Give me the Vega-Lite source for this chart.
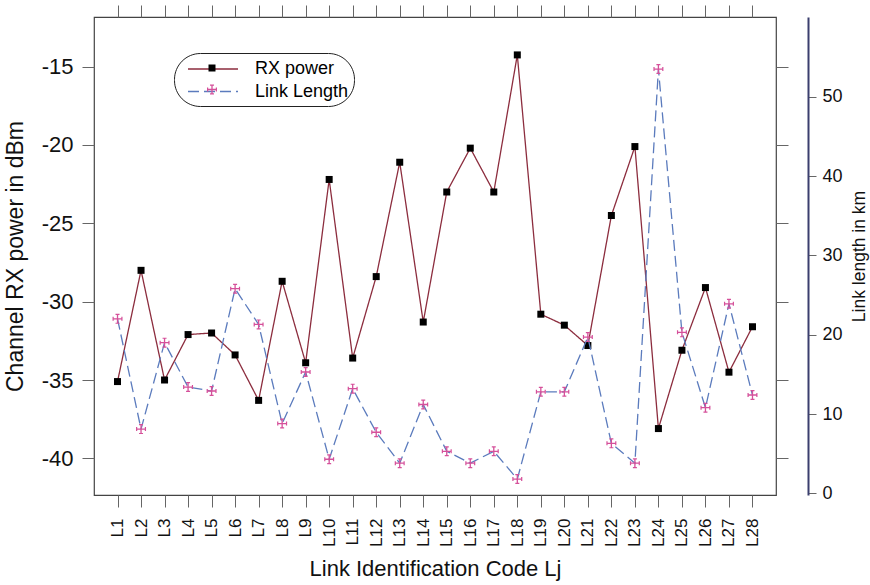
{
  "$schema": "https://vega.github.io/schema/vega-lite/v6.json",
  "autosize": "none",
  "width": 682,
  "height": 478,
  "padding": {"left": 94, "top": 17, "right": 94, "bottom": 90},
  "background": "white",
  "config": {
    "font": "Liberation Sans",
    "view": {"stroke": "#444444", "strokeWidth": 1.2},
    "axis": {
      "grid": false,
      "domain": false,
      "tickColor": "#666666",
      "tickWidth": 1,
      "labelColor": "#111111",
      "titleColor": "#111111",
      "titleFontWeight": "normal"
    }
  },
  "data": {
    "values": [
      {"link": "L1", "rx": -35.1, "km": 22.0},
      {"link": "L2", "rx": -28.0, "km": 8.1},
      {"link": "L3", "rx": -35.0, "km": 19.0},
      {"link": "L4", "rx": -32.1, "km": 13.4},
      {"link": "L5", "rx": -32.0, "km": 12.9},
      {"link": "L6", "rx": -33.4, "km": 25.8},
      {"link": "L7", "rx": -36.3, "km": 21.3},
      {"link": "L8", "rx": -28.7, "km": 8.8},
      {"link": "L9", "rx": -33.9, "km": 15.3},
      {"link": "L10", "rx": -22.2, "km": 4.3},
      {"link": "L11", "rx": -33.6, "km": 13.2},
      {"link": "L12", "rx": -28.4, "km": 7.7},
      {"link": "L13", "rx": -21.1, "km": 3.8},
      {"link": "L14", "rx": -31.3, "km": 11.2},
      {"link": "L15", "rx": -23.0, "km": 5.3},
      {"link": "L16", "rx": -20.2, "km": 3.8},
      {"link": "L17", "rx": -23.0, "km": 5.3},
      {"link": "L18", "rx": -14.25, "km": 1.8},
      {"link": "L19", "rx": -30.8, "km": 12.8},
      {"link": "L20", "rx": -31.5, "km": 12.8},
      {"link": "L21", "rx": -32.8, "km": 19.7},
      {"link": "L22", "rx": -24.5, "km": 6.3},
      {"link": "L23", "rx": -20.1, "km": 3.8},
      {"link": "L24", "rx": -38.1, "km": 53.5},
      {"link": "L25", "rx": -33.1, "km": 20.3},
      {"link": "L26", "rx": -29.1, "km": 10.8},
      {"link": "L27", "rx": -34.5, "km": 23.9},
      {"link": "L28", "rx": -31.6, "km": 12.4}
    ]
  },
  "layer": [
    {
      "mark": {"type": "line", "strokeWidth": 1.3},
      "encoding": {
        "x": {
          "field": "link", "type": "ordinal", "sort": null,
          "scale": {"type": "point", "padding": 1},
          "axis": {
            "orient": "bottom", "labelAngle": -90, "labelFontSize": 17,
            "tickSize": 12, "labelPadding": 11,
            "title": "Link Identification Code Lj", "titleFontSize": 22, "titlePadding": 12
          }
        },
        "y": {
          "field": "rx", "type": "quantitative",
          "scale": {"domain": [-42.34, -11.83], "nice": false, "zero": false},
          "axis": {
            "orient": "left", "values": [-40, -35, -30, -25, -20, -15],
            "labelExpr": "toString(datum.value)",
            "tickSize": 12, "labelFontSize": 22, "labelPadding": 9,
            "title": "Channel RX power in dBm", "titleFontSize": 23, "titlePadding": 14
          }
        },
        "stroke": {
          "datum": "RX power",
          "scale": {"domain": ["RX power", "Link Length"], "range": ["#8c2d3e", "#5b7bbd"]},
          "legend": {
            "orient": "none", "legendX": 80, "legendY": 36, "title": null,
            "symbolType": "M-2.5,0H2.5", "symbolSize": 400, "symbolStrokeWidth": 1.5,
            "symbolOffset": 23, "labelOffset": 31,
            "labelFontSize": 18, "rowPadding": 2.5, "padding": 5,
            "strokeColor": "#222222", "cornerRadius": 26
          }
        },
        "strokeDash": {
          "datum": "RX power",
          "scale": {"domain": ["RX power", "Link Length"], "range": [[1, 0], [11, 5]]},
          "legend": {
            "orient": "none", "legendX": 80, "legendY": 36, "title": null,
            "symbolType": "M-2.5,0H2.5", "symbolSize": 400, "symbolStrokeWidth": 1.5,
            "symbolOffset": 23, "labelOffset": 31,
            "labelFontSize": 18, "rowPadding": 2.5, "padding": 5,
            "strokeColor": "#222222", "cornerRadius": 26
          }
        }
      }
    },
    {
      "mark": {"type": "point", "filled": true, "size": 400, "strokeWidth": 0, "opacity": 1},
      "encoding": {
        "x": {
          "field": "link", "type": "ordinal", "sort": null,
          "axis": {"orient": "top", "labels": false, "tickSize": 12, "title": null}
        },
        "y": {
          "field": "rx", "type": "quantitative",
          "scale": {"domain": [-42.34, -11.83], "nice": false, "zero": false},
          "axis": {
            "orient": "right", "values": [-40, -35, -30, -25, -20, -15],
            "labels": false, "tickSize": 12, "title": null
          }
        },
        "fill": {
          "datum": "RX power",
          "scale": {"domain": ["RX power", "Link Length"], "range": ["#000000", "#d5509a"]},
          "legend": {
            "orient": "none", "legendX": 80, "legendY": 36, "title": null,
            "symbolSize": 400, "symbolStrokeWidth": 0, "symbolOpacity": 1,
            "symbolOffset": 23, "labelOffset": 31, "labelExpr": "' '",
            "labelFontSize": 18, "rowPadding": 2.5, "padding": 5,
            "labelColor": "transparent"
          }
        },
        "shape": {
          "datum": "RX power",
          "scale": {
            "domain": ["RX power", "Link Length"],
            "range": [
              "M-0.35,-0.35H0.35V0.35H-0.35Z",
              "M-0.5,-0.065H0.5V0.065H-0.5ZM-0.065,-0.5H0.065V0.5H-0.065ZM-0.5,-0.2H-0.38V0.2H-0.5ZM0.38,-0.2H0.5V0.2H0.38ZM-0.2,-0.5H0.2V-0.38H-0.2ZM-0.2,0.38H0.2V0.5H-0.2Z"
            ]
          },
          "legend": {
            "orient": "none", "legendX": 80, "legendY": 36, "title": null,
            "symbolSize": 400, "symbolStrokeWidth": 0, "symbolOpacity": 1,
            "symbolOffset": 23, "labelOffset": 31, "labelExpr": "' '",
            "labelFontSize": 18, "rowPadding": 2.5, "padding": 5,
            "labelColor": "transparent"
          }
        }
      }
    },
    {
      "mark": {"type": "line", "strokeWidth": 1.3},
      "encoding": {
        "x": {"field": "link", "type": "ordinal", "sort": null, "axis": null},
        "y": {
          "field": "km", "type": "quantitative",
          "scale": {"domain": [-0.21, 60.06], "nice": false, "zero": false},
          "axis": {
            "orient": "right", "offset": 32, "values": [0, 10, 20, 30, 40, 50],
            "domain": true, "domainColor": "#3b3f6e", "domainWidth": 2,
            "tickSize": 8, "labelFontSize": 18, "labelPadding": 6,
            "title": "Link length in km", "titleFontSize": 17.5, "titleAngle": 270, "titlePadding": 26
          }
        },
        "stroke": {"datum": "Link Length"},
        "strokeDash": {"datum": "Link Length"}
      }
    },
    {
      "mark": {"type": "point", "filled": true, "size": 400, "strokeWidth": 0, "opacity": 1},
      "encoding": {
        "x": {"field": "link", "type": "ordinal", "sort": null, "axis": null},
        "y": {
          "field": "km", "type": "quantitative",
          "scale": {"domain": [-0.21, 60.06], "nice": false, "zero": false},
          "axis": null
        },
        "fill": {"datum": "Link Length", "legend": null},
        "shape": {"datum": "Link Length", "legend": null}
      }
    }
  ],
  "resolve": {
    "scale": {"y": "independent"},
    "axis": {"x": "independent"},
    "legend": {"fill": "independent", "shape": "independent"}
  }
}
